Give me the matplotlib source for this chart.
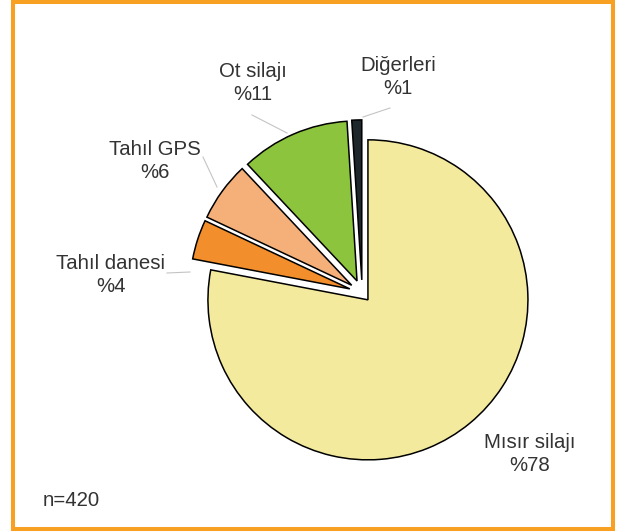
import matplotlib.pyplot as plt
from matplotlib.patches import Rectangle

plt.rcParams['font.family'] = ['Liberation Sans', 'DejaVu Sans']

# Silage / feed share data (n=420)
categories = ['Mısır silajı', 'Tahıl danesi', 'Tahıl GPS', 'Ot silajı', 'Diğerleri']
shares = [78, 4, 6, 11, 1]
colors = ['#F4EA9E', '#F28E2B', '#F5B07A', '#8CC43E', '#1E272C']

W, H = 618, 532

# label centres and leader lines (start near label, end at slice), y measured upward
label_pos = [(530, 78), (111, 257), (155, 371), (253, 449), (398, 455)]
leaders = [None,
           [(167, 259), (190, 260)],
           [(203, 375), (217, 345)],
           [(252, 417), (287, 399)],
           [(390, 424), (363, 415)]]

fig = plt.figure(figsize=(W / 100, H / 100), dpi=100)
ax = fig.add_axes([0, 0, 1, 1])

center = (362.2, 239.1)
radius = 160
explode = [9, 13, 13, 13, 13]

wedges, _ = ax.pie(shares, colors=colors, startangle=90, counterclock=False,
                   explode=explode, radius=radius, center=center,
                   wedgeprops=dict(edgecolor='black', linewidth=1.1))

ax.set_xlim(0, W)
ax.set_ylim(0, H)
ax.set_aspect('equal')
ax.axis('off')

for name, val, pos, line in zip(categories, shares, label_pos, leaders):
    ax.text(pos[0], pos[1], f'{name}\n%{val}', ha='center', va='center',
            fontsize=14.7, color='#333333', linespacing=1.25)
    if line:
        ax.plot([p[0] for p in line], [p[1] for p in line],
                color='#C4C4C4', lw=0.8)

ax.text(43, 32, 'n=420', ha='left', va='center', fontsize=14.7, color='#333333')

# orange frame
ax.add_patch(Rectangle((13, 3), 600, 527, fill=False, edgecolor='#F7A021',
                       linewidth=2.9, clip_on=False))

fig.savefig('out.png', dpi=100, facecolor='white')
